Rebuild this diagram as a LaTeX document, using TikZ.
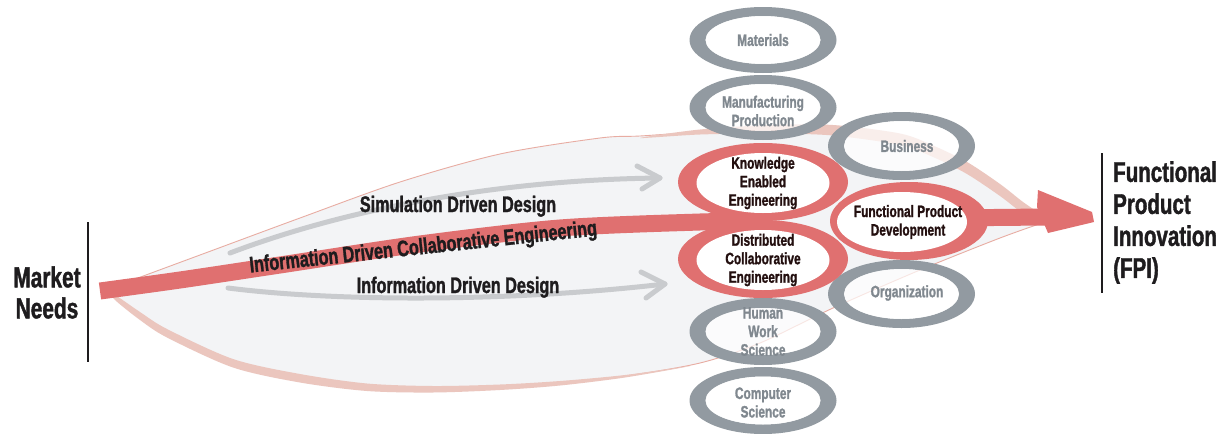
\documentclass[tikz,border=0pt]{standalone}
\usepackage{fontspec}
\setmainfont{Liberation Sans}[FakeStretch=0.72, BoldFeatures={FakeBold=1.3}]
\definecolor{ringgrey}{RGB}{146,154,161}
\definecolor{redc}{RGB}{224,112,112}
\definecolor{pinkthick}{RGB}{235,198,190}
\definecolor{pinkthin}{RGB}{232,172,162}
\definecolor{leaffill}{RGB}{243,244,246}
\definecolor{arrowgrey}{RGB}{201,203,206}
\definecolor{greytext}{RGB}{128,136,143}
\definecolor{darktext}{RGB}{30,28,30}
\definecolor{redtext}{RGB}{35,15,15}
\begin{document}
\begin{tikzpicture}[x=1pt,y=-1pt,
  gtext/.style={text=greytext, font=\bfseries\fontsize{16.5}{18.5}\selectfont, align=center, inner sep=0pt},
  rtext/.style={text=redtext, font=\bfseries\fontsize{16.5}{18.5}\selectfont, align=center, inner sep=0pt},
  bigtext/.style={text=darktext, font=\bfseries\fontsize{29}{31}\selectfont, inner sep=0pt},
  midtext/.style={text=darktext, font=\bfseries\fontsize{22.5}{24}\selectfont, inner sep=0pt},
  garrow/.style={draw=arrowgrey, line width=5pt, line cap=round, line join=round},
  leafthin/.style={draw=pinkthin, line width=0.9pt},
  band/.style={draw=redc, line width=17pt},
  sepline/.style={draw=darktext, line width=1.3pt}]
\useasboundingbox (0,0) rectangle (1227,434);
\fill[white] (0,0) rectangle (1227,434);

% leaf shape
\fill[leaffill] plot[smooth] coordinates {(100,292) (200,255) (300,218) (400,182) (500,154) (600,138) (640,136) (700,132) (770,129) (833,130) (900,138) (933,151) (967,168) (1000,190) (1023,207) (1045,222)}
  -- plot[smooth] coordinates {(1045,222) (1000,238) (920,270) (833,308) (760,343) (700,363) (625,376) (560,383) (500,387) (433,389) (367,387) (300,378) (233,363) (200,350) (167,333) (140,316) (117,298) (104,293)} -- cycle;
\draw[leafthin] plot[smooth] coordinates {(100,292) (200,255) (300,218) (400,182) (500,154) (600,138) (640,136) (700,132) (770,129) (833,130) (900,138) (933,151) (967,168) (1000,190) (1023,207) (1045,222)};
\draw[leafthin] plot[smooth] coordinates {(104,293) (117,298) (140,316) (167,333) (200,350) (233,363) (300,378) (367,387) (433,389) (500,387) (560,383) (625,376) (700,363) (760,343) (833,308) (920,270) (1000,238) (1045,222)};
% thick parts of leaf outline
\fill[pinkthick] plot[smooth cycle] coordinates {(640,138) (700,129.5) (770,125) (833,125) (900,133.5) (933,145.5) (967,162) (1000,184) (1023,202) (1047,219) (1043,225) (1021,212) (1000,196) (967,174) (933,157) (900,145) (833,135.5) (770,133.5) (700,134.5)};
\fill[pinkthick] plot[smooth cycle] coordinates {(112,293) (140,312) (167,329) (233,359) (300,374) (367,383.5) (433,386) (500,384.5) (560,381) (625,375) (690,366) (625,377.5) (560,385.5) (500,390) (433,392.5) (367,391) (300,382.5) (233,367.5) (167,337.5) (140,320) (115,300)};

% grey arrows
\coordinate (s0) at (230,253); \coordinate (s1) at (660,178);
\coordinate (sa) at (637,166); \coordinate (sb) at (642,189);
\draw[garrow] (s0) .. controls (330,215) and (480,180) .. (s1);
\draw[garrow] (sa) -- (s1) -- (sb);
\coordinate (i0) at (228,288); \coordinate (i1) at (665,284);
\coordinate (ia) at (641,272); \coordinate (ib) at (646,298);
\draw[garrow] (i0) .. controls (330,301) and (500,303) .. (i1);
\draw[garrow] (ia) -- (i1) -- (ib);

% red band and arrow
\draw[band] plot[smooth] coordinates {(100,291) (180,280) (280,265) (420,244) (560,228) (700,222) (770,221)};
\coordinate (fpdc) at (940,218);
\coordinate (headback) at (1047,217);
\draw[band] (fpdc) -- (headback);
\fill[redc] (1037,207) -- (1038,190) -- (1092,212) -- (1094,222) -- (1048,233) -- (1045,226) -- cycle;

% grey rings
\foreach \cx/\cy/\ory/\iry in {763/40/33/24, 763/107.5/32.5/23.5, 763/331.5/33.5/23.5, 763/400.5/33.5/24, 901.5/146/34/25, 901.5/294/34/25} {
  \fill[ringgrey, even odd rule] (\cx,\cy) ellipse [x radius=73.5, y radius=\ory] (\cx,\cy) ellipse [x radius=57.5, y radius=\iry];
  \fill[white, opacity=0.7] (\cx,\cy) ellipse [x radius=57.5, y radius=\iry];
}
% red rings
\fill[redc] (763,182) ellipse [x radius=85, y radius=39];
\fill[redc] (763,259) ellipse [x radius=85, y radius=39];
\fill[redc] (909,221) ellipse [x radius=79, y radius=39];
\fill[white] (763,183) ellipse [x radius=66.5, y radius=30];
\fill[white] (763,260) ellipse [x radius=66.5, y radius=30];
\fill[white] (902,222) ellipse [x radius=65, y radius=30];

% ellipse labels
\node[gtext] (mat) at (763,40) {Materials};
\node[gtext] (man) at (763,111) {Manufacturing\\Production};
\node[gtext] (bus) at (907,146) {Business};
\node[gtext] (org) at (907,293) {Organization};
\node[gtext] (hws) at (763,331.5) {Human\\Work\\Science};
\node[gtext] (cs) at (763,402.5) {Computer\\Science};
\node[rtext] (kee) at (763,183) {Knowledge\\Enabled\\Engineering};
\node[rtext] (dce) at (763,260) {Distributed\\Collaborative\\Engineering};
\node[rtext] (fpd) at (908,222) {Functional Product\\Development};

% path labels
\node[midtext, anchor=base] (sdd) at (458,212) {Simulation Driven Design};
\node[midtext, anchor=base] (idd) at (458,293) {Information Driven Design};
\node[midtext, anchor=base, rotate=6.1] (idce) at (424,254) {Information Driven Collaborative Engineering};

% end labels
\node[bigtext, align=center] (mn) at (47,292.5) {Market\\Needs};
\coordinate (l1a) at (88,222); \coordinate (l1b) at (88,362);
\draw[sepline] (l1a) -- (l1b);
\node[bigtext, align=left, anchor=west, font=\bfseries\fontsize{28.5}{32}\selectfont] (fpi) at (1113,222.5) {Functional\\Product\\Innovation\\(FPI)};
\coordinate (l2a) at (1102,153); \coordinate (l2b) at (1102,293);
\draw[sepline] (l2a) -- (l2b);
\end{tikzpicture}
\end{document}
